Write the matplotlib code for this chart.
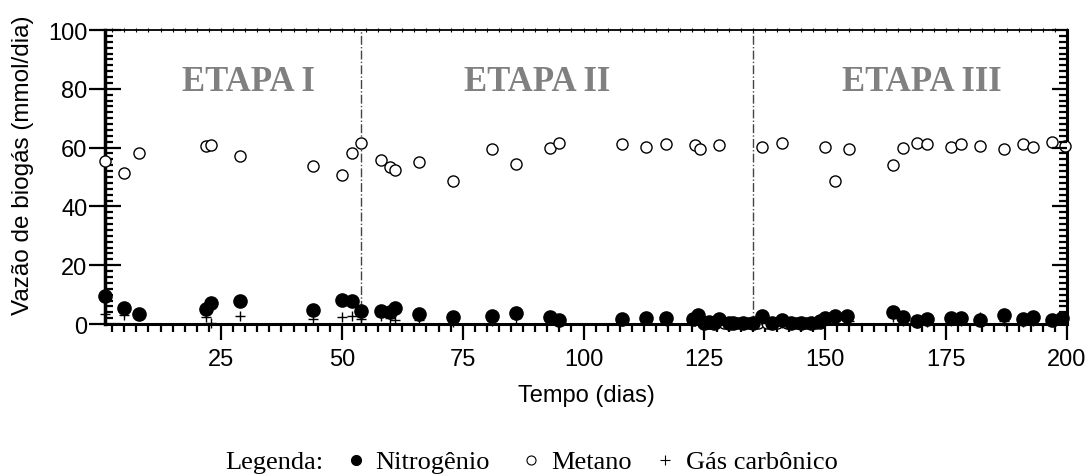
import matplotlib
matplotlib.use('Agg')
import matplotlib.pyplot as plt
from matplotlib.ticker import MultipleLocator
from matplotlib.lines import Line2D

# dados (dia, mmol/dia)
n2_dias = [1, 5, 8, 22, 23, 29, 44, 50, 52, 54, 58, 60, 61, 66, 73, 81, 86, 93, 95,
           108, 113, 117, 122.6, 123.7, 125, 126, 127, 128, 130, 131, 133, 135, 137, 139,
           141, 143, 145, 147, 149, 150, 152, 154.5, 164, 166, 169, 171, 176, 178, 182,
           187, 191, 193, 197, 199]
n2_vals = [9.4, 5.5, 3.5, 5.1, 7.1, 7.9, 4.7, 8.2, 8.0, 4.3, 4.5, 4.2, 5.6, 3.4, 2.3, 2.6,
           3.7, 2.5, 1.2, 1.7, 2.0, 1.9, 1.7, 3.2, 0.5, 0.8, 0.5, 1.7, 0.5, 0.3, 0.5, 0.5,
           2.8, 0.5, 1.5, 0.5, 0.3, 0.5, 1.0, 1.9, 2.6, 2.8, 4.0, 2.3, 1.1, 1.7, 1.9, 1.9,
           1.5, 3.0, 1.7, 2.5, 1.4, 2.0]

ch4_dias = [1, 5, 8, 22, 23, 29, 44, 50, 52, 54, 58, 60, 61, 66, 73, 81, 86, 93, 95,
            108, 113, 117, 123, 124, 128, 125, 126, 127, 129, 130, 131, 132, 133, 134,
            136, 138, 139, 140, 142, 143, 144, 146, 147, 148, 149,
            137, 141, 150, 152, 155, 164, 166, 169, 171, 176, 178, 182, 187, 191, 193,
            197, 199.5]
ch4_vals = [55.6, 51.2, 58.2, 60.7, 60.9, 57.1, 53.7, 50.7, 58.2, 61.5, 55.9, 53.4, 52.5,
            55.0, 48.6, 59.5, 54.3, 59.7, 61.5, 61.2, 60.2, 61.2, 60.8, 59.5, 61.0,
            0.3, 0.3, 0.3, 0.3, 0.3, 0.3, 0.3, 0.3, 0.3, 0.3, 0.3, 0.3, 0.3, 0.3, 0.3,
            0.3, 0.3, 0.3, 0.3, 0.3,
            60.2, 61.7, 60.2, 48.6, 59.4, 54.2, 59.8, 61.6, 61.2, 60.2, 61.2, 60.7, 59.5,
            61.2, 60.2, 61.9, 60.4]

co2_dias = [1, 5, 22, 23, 29, 44, 50, 52, 54, 58, 60, 61, 66, 73, 81, 86, 93, 95, 108,
            113, 117, 123, 124, 126, 128, 129, 132, 135, 137, 138, 141, 144, 147, 150,
            152, 155, 164, 166, 169, 171, 176, 178, 182, 187, 191, 193, 197, 199]
co2_vals = [3.5, 3.0, 2.3, 0.3, 2.8, 1.7, 2.5, 2.6, 1.7, 2.6, 2.0, 1.2, 1.3, 0.8, 1.0,
            2.0, 1.5, 0.8, 1.0, 1.5, 1.0, 1.0, 2.0, 0.2, 0.5, 0.2, 0.2, 0.2, 1.5, 0.2,
            0.5, 0.2, 0.2, 1.0, 1.5, 1.0, 2.5, 1.0, 0.5, 0.8, 1.0, 1.0, 2.5, 1.0, 0.8,
            1.0, 1.0, 2.0]

etapas_limites = [54, 135]
etapas_nomes = ['ETAPA I', 'ETAPA II', 'ETAPA III']
etapas_x = [30.6, 90.3, 170.0]

sans = ['Liberation Sans', 'DejaVu Sans']
serif = ['Liberation Serif', 'DejaVu Serif']
plt.rcParams['font.family'] = sans
plt.rcParams['font.size'] = 17

fig = plt.figure(figsize=(10.89, 4.77), dpi=100)
ax = fig.add_axes([0.0964, 0.3186, 0.8834, 0.6164])

ax.plot(n2_dias, n2_vals, 'o', color='black', ms=9.5, clip_on=False, zorder=4)
ax.plot(ch4_dias, ch4_vals, 'o', mfc='white', mec='black', mew=1.0, ms=8,
        clip_on=False, zorder=3)
ax.plot(co2_dias, co2_vals, '+', color='black', ms=7, mew=1.0, clip_on=False, zorder=3)

for xv in etapas_limites:
    ax.axvline(xv, color='#444444', lw=1.0, ls='-.', zorder=1)

for nome, xv in zip(etapas_nomes, etapas_x):
    ax.text(xv, 82.5, nome, ha='center', va='center', color='#808080', fontsize=25,
            fontweight='bold', family=serif)

ax.set_xlim(1, 200)
ax.set_ylim(0, 100)
ax.xaxis.set_major_locator(MultipleLocator(25))
ax.xaxis.set_minor_locator(MultipleLocator(2.5))
ax.yaxis.set_major_locator(MultipleLocator(20))
ax.yaxis.set_minor_locator(MultipleLocator(2))

ax.spines['left'].set_linewidth(2.5)
ax.spines['bottom'].set_linewidth(2.2)
ax.spines['right'].set_linewidth(2.2)
ax.spines['top'].set_linewidth(1.3)

ax.tick_params(axis='x', which='major', direction='out', length=11.5, width=1.6, pad=6)
ax.tick_params(axis='x', which='minor', direction='out', length=6, width=1.6)
ax.tick_params(axis='y', which='major', direction='inout', length=23, width=1.6, pad=1)
ax.tick_params(axis='y', which='minor', direction='in', length=6, width=1.6)

# eixos secundários só para os ticks de cima e da direita
axr = ax.twinx()
axr.set_ylim(0, 100)
axr.yaxis.set_major_locator(MultipleLocator(20))
axr.yaxis.set_minor_locator(MultipleLocator(2))
axr.tick_params(axis='y', which='major', direction='in', length=11, width=1.6, labelright=False)
axr.tick_params(axis='y', which='minor', direction='in', length=6, width=1.6)
for s in axr.spines.values():
    s.set_visible(False)

axt = ax.twiny()
axt.set_xlim(1, 200)
axt.xaxis.set_major_locator(MultipleLocator(2.5))
axt.tick_params(axis='x', which='major', direction='inout', length=3, width=0.8, labeltop=False)
for s in axt.spines.values():
    s.set_visible(False)

ax.set_xlabel('Tempo (dias)')
ax.xaxis.set_label_coords(0.5, -0.205)
ax.set_ylabel('Vazão de biogás (mmol/dia)', fontsize=17.5)
ax.yaxis.set_label_coords(-0.074, 0.545)

# legenda escrita embaixo, como no original
ly = 0.029
fig.text(0.207, ly, 'Legenda:', ha='left', va='center', family=serif, fontsize=19)
fig.add_artist(Line2D([0.327], [ly + 0.004], transform=fig.transFigure, ls='',
                      marker='o', color='black', ms=7))
fig.text(0.345, ly, 'Nitrogênio', ha='left', va='center', family=serif, fontsize=19)
fig.add_artist(Line2D([0.488], [ly + 0.004], transform=fig.transFigure, ls='',
                      marker='o', mfc='white', mec='black', ms=6.5, mew=0.8))
fig.text(0.506, ly, 'Metano', ha='left', va='center', family=serif, fontsize=19)
fig.add_artist(Line2D([0.611], [ly + 0.004], transform=fig.transFigure, ls='',
                      marker='+', color='black', ms=7.5, mew=0.8))
fig.text(0.630, ly, 'Gás carbônico', ha='left', va='center', family=serif, fontsize=19)

fig.savefig('out.png', dpi=100)
